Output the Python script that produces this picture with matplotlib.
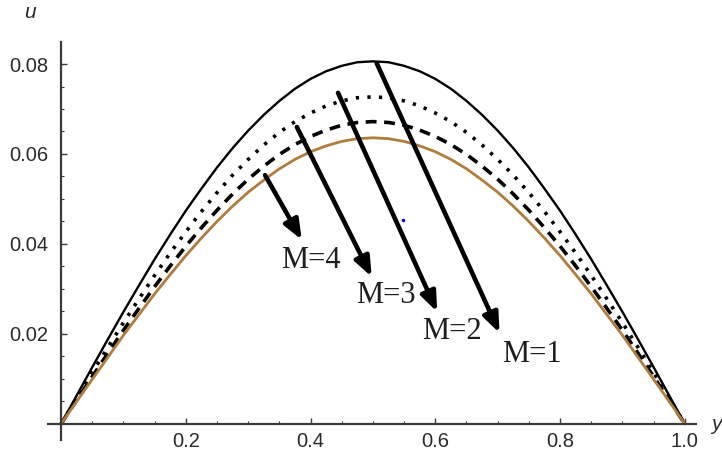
import matplotlib.pyplot as plt
from matplotlib.ticker import MultipleLocator, FixedLocator

# y positions across the channel
y = [0.000, 0.025, 0.050, 0.075, 0.100, 0.125, 0.150, 0.175, 0.200, 0.225,
     0.250, 0.275, 0.300, 0.325, 0.350, 0.375, 0.400, 0.425, 0.450, 0.475,
     0.500, 0.525, 0.550, 0.575, 0.600, 0.625, 0.650, 0.675, 0.700, 0.725,
     0.750, 0.775, 0.800, 0.825, 0.850, 0.875, 0.900, 0.925, 0.950, 0.975,
     1.000]

# velocity profiles
u_m1 = [0.0, 0.0063, 0.0126, 0.0188, 0.0249, 0.0308, 0.0366, 0.0421, 0.0474, 0.0523,
        0.0570, 0.0613, 0.0652, 0.0687, 0.0718, 0.0745, 0.0767, 0.0784, 0.0796, 0.0804,
        0.0806, 0.0804, 0.0796, 0.0784, 0.0767, 0.0745, 0.0718, 0.0687, 0.0652, 0.0613,
        0.0570, 0.0523, 0.0474, 0.0421, 0.0366, 0.0308, 0.0249, 0.0188, 0.0126, 0.0063,
        0.0]
u_m2 = [0.0, 0.0057, 0.0114, 0.0170, 0.0225, 0.0278, 0.0330, 0.0380, 0.0427, 0.0472,
        0.0514, 0.0553, 0.0588, 0.0620, 0.0648, 0.0672, 0.0691, 0.0707, 0.0718, 0.0725,
        0.0727, 0.0725, 0.0718, 0.0707, 0.0691, 0.0672, 0.0648, 0.0620, 0.0588, 0.0553,
        0.0514, 0.0472, 0.0427, 0.0380, 0.0330, 0.0278, 0.0225, 0.0170, 0.0114, 0.0057,
        0.0]
u_m3 = [0.0, 0.0053, 0.0105, 0.0157, 0.0208, 0.0257, 0.0305, 0.0351, 0.0395, 0.0436,
        0.0475, 0.0511, 0.0544, 0.0573, 0.0599, 0.0621, 0.0639, 0.0653, 0.0664, 0.0670,
        0.0672, 0.0670, 0.0664, 0.0653, 0.0639, 0.0621, 0.0599, 0.0573, 0.0544, 0.0511,
        0.0475, 0.0436, 0.0395, 0.0351, 0.0305, 0.0257, 0.0208, 0.0157, 0.0105, 0.0053,
        0.0]
u_m4 = [0.0, 0.0050, 0.0099, 0.0148, 0.0197, 0.0243, 0.0289, 0.0332, 0.0374, 0.0413,
        0.0450, 0.0484, 0.0515, 0.0542, 0.0567, 0.0588, 0.0605, 0.0618, 0.0628, 0.0634,
        0.0636, 0.0634, 0.0628, 0.0618, 0.0605, 0.0588, 0.0567, 0.0542, 0.0515, 0.0484,
        0.0450, 0.0413, 0.0374, 0.0332, 0.0289, 0.0243, 0.0197, 0.0148, 0.0099, 0.0050,
        0.0]

# annotation arrows (start -> end) and labels
labels = ["M=1", "M=2", "M=3", "M=4"]
arrow_start = [(0.506, 0.0802), (0.444, 0.0736), (0.378, 0.0660), (0.327, 0.0553)]
arrow_end = [(0.703, 0.0202), (0.603, 0.0249), (0.498, 0.0327), (0.386, 0.0409)]
label_pos = [(0.707, 0.0138), (0.579, 0.0188), (0.473, 0.0269), (0.353, 0.0347)]

axis_col = "#3a3a3a"
text_col = "#2a2a2a"

fig = plt.figure(figsize=(7.22, 4.57), dpi=100)
ax = fig.add_axes([48 / 722, 17 / 457, 648 / 722, 398 / 457])

ax.plot(y, u_m1, color="k", lw=1.7, solid_capstyle="butt")
ax.plot(y, u_m2, color="k", lw=2.6, linestyle=(0, (0.9, 2.3)))
ax.plot(y, u_m3, color="k", lw=2.6, linestyle=(0, (3.0, 2.1)))
ax.plot(y, u_m4, color="#b07c3c", lw=2.0)

for s, e in zip(arrow_start, arrow_end):
    ax.annotate("", xy=e, xytext=s,
                arrowprops=dict(arrowstyle="-|>,head_length=0.45,head_width=0.18",
                                color="k", lw=3.3,
                                mutation_scale=26, shrinkA=0, shrinkB=0))
for lab, (lx, ly) in zip(labels, label_pos):
    ax.text(lx, ly, lab, fontsize=22, family="Liberation Serif",
            color="#1e1e1e", ha="left", va="baseline")

# stray blue dot in the original
ax.plot([0.548], [0.0453], marker="o", ms=1.5, color="blue", lw=0)

ax.set_xlim(-0.021, 1.018)
ax.set_ylim(-0.0036, 0.0849)

for side in ["top", "right"]:
    ax.spines[side].set_visible(False)
for side in ["left", "bottom"]:
    ax.spines[side].set_position(("data", 0))
    ax.spines[side].set_color(axis_col)
    ax.spines[side].set_linewidth(1.6)

ax.xaxis.set_major_locator(FixedLocator([0.2, 0.4, 0.6, 0.8, 1.0]))
ax.xaxis.set_minor_locator(MultipleLocator(0.05))
ax.yaxis.set_major_locator(FixedLocator([0.02, 0.04, 0.06, 0.08]))
ax.yaxis.set_minor_locator(MultipleLocator(0.005))
ax.set_xticklabels(["0.2", "0.4", "0.6", "0.8", "1.0"])
ax.set_yticklabels(["0.02", "0.04", "0.06", "0.08"])

ax.tick_params(which="major", direction="in", length=4, width=1.0,
               color=axis_col, labelsize=14.5, labelcolor=text_col,
               labelfontfamily="Liberation Sans")
ax.tick_params(which="minor", direction="in", length=2.5, width=0.8,
               color=axis_col)
ax.tick_params(axis="x", which="major", pad=6)
ax.tick_params(axis="y", which="major", pad=9)

fig.text(30 / 722, 1 - 12 / 457, "u", fontsize=15, style="italic",
         family="Liberation Sans", color=text_col, ha="center", va="center")
fig.text(716 / 722, 1 - 425 / 457, "y", fontsize=15, style="italic",
         family="Liberation Sans", color=text_col, ha="center", va="center")

fig.savefig("out.png", dpi=100)
